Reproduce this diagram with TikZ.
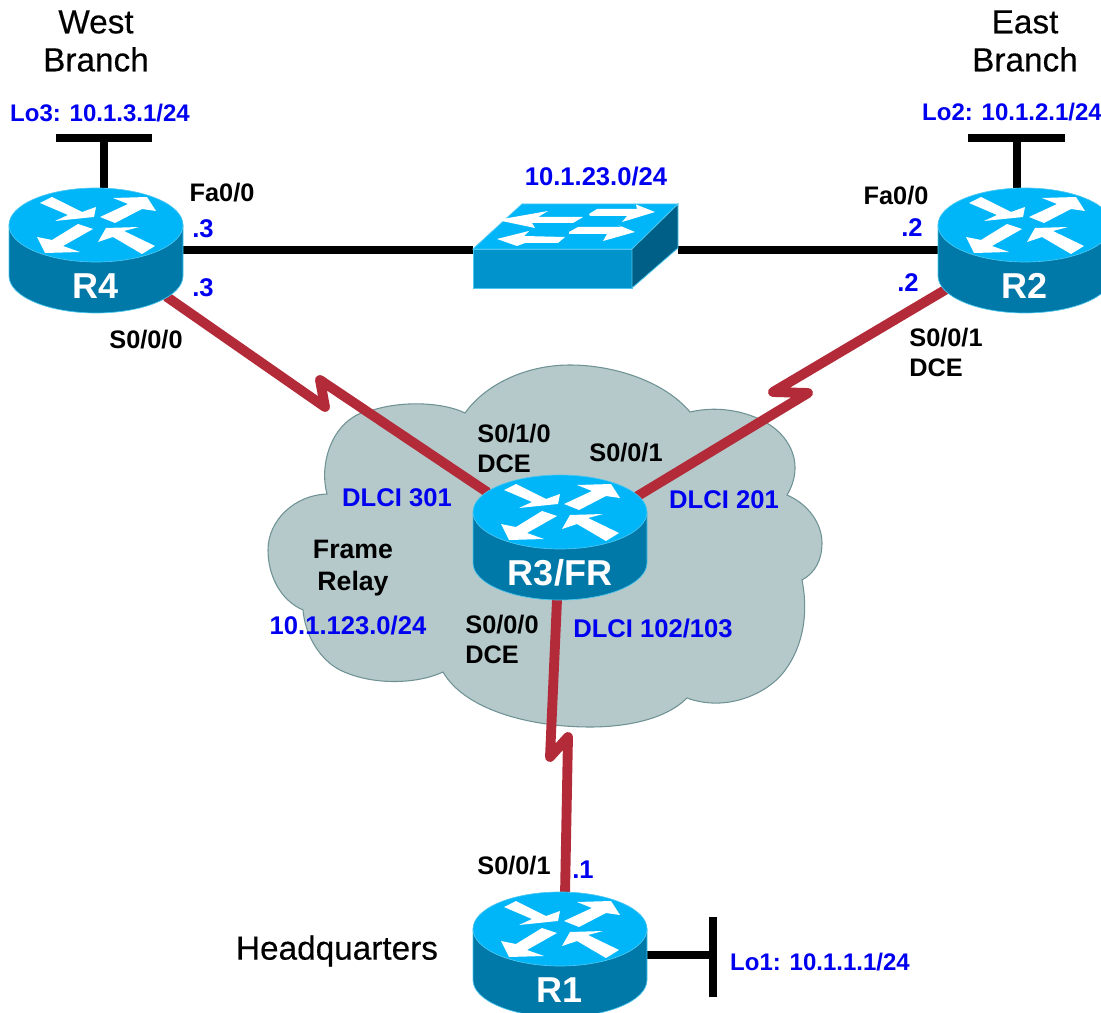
\documentclass[tikz,border=0pt]{standalone}
\usepackage{fontspec}
\setmainfont{Liberation Sans}
\newfontfamily\semibold[FakeBold=0.35]{Liberation Sans}
\usetikzlibrary{backgrounds}
\definecolor{rtop}{HTML}{00B5F8}
\definecolor{rside}{HTML}{0078A8}
\definecolor{swfront}{HTML}{0093CC}
\definecolor{swside}{HTML}{005F86}
\definecolor{swedge}{HTML}{4CC8F0}
\definecolor{linkred}{HTML}{B32A38}
\definecolor{cloudfill}{HTML}{B5C8CA}
\definecolor{cloudedge}{HTML}{6F9395}
\definecolor{lblue}{HTML}{0000F0}
\tikzset{
  x=0.75pt,y=-0.75pt,
  bluelbl/.style={text=lblue,font=\fontsize{19.2}{22}\selectfont\bfseries,inner sep=0pt},
  lolbl/.style={text=lblue,font=\fontsize{18}{22}\selectfont\bfseries,inner sep=0pt},
  blacklbl/.style={text=black,font=\fontsize{19}{22.5}\selectfont\bfseries,inner sep=0pt,align=center},
  framelbl/.style={text=black,font=\fontsize{20}{24}\selectfont\bfseries,inner sep=0pt,align=center},
  biglbl/.style={text=black,font=\fontsize{25}{28.5}\selectfont\semibold,inner sep=0pt,align=center},
  routerlbl/.style={text=white,font=\fontsize{27}{30}\selectfont\bfseries,inner sep=0pt},
  routerbody/.style={minimum width=174*0.75pt,minimum height=125*0.75pt,inner sep=0pt},
  switchbody/.style={minimum width=205*0.75pt,minimum height=84*0.75pt,inner sep=0pt},
  redlink/.style={draw=linkred,line width=7.4pt,line join=round,line cap=round},
  blacklink/.style={draw=black,line width=6pt},
  lobar/.style={draw=black,line width=6pt},
  whitearrow/.style={fill=white,draw=none},
}
\newcommand{\routerat}[4]{% name, cx, cy, label
  \begin{scope}[shift={(#2,#3)}]
    \fill[rside,draw=swedge,line width=.5pt] (-87,0) -- (-87,51) arc[start angle=180,end angle=360,x radius=87pt*0.75,y radius=37pt*0.75] -- (87,0) -- cycle;
    \fill[rtop,draw=swedge,line width=.5pt] (0,0) ellipse[x radius=87pt*0.75,y radius=37pt*0.75];
    \fill[whitearrow] (-56,-22) -- (-44,-28) -- (-14,-13) -- (0,-18) -- (-2,-8) -- (-41,-4) -- (-28,-10) -- cycle;
    \fill[whitearrow] (4,-8) -- (19,-2) -- (46,-16) -- (60,-14) -- (51,-28) -- (17,-27) -- (32,-21) -- cycle;
    \fill[whitearrow] (-3,4) -- (-18,-1) -- (-44,15) -- (-59,12) -- (-51,28) -- (-16,27) -- (-33,21) -- cycle;
    \fill[whitearrow] (59,21) -- (28,6) -- (43,2) -- (10,3) -- (2,17) -- (17,12) -- (46,29) -- cycle;
  \end{scope}
  \node[routerbody] (#1) at (#2,#3+25.5) {};
  \node[routerlbl] (#1lbl) at (#2,#3+61) {#4};
}
\begin{document}
\begin{tikzpicture}
\useasboundingbox (0,0) rectangle (1101,1013);
\clip (0,0) rectangle (1101,1013);

\routerat{rfour}{96}{225}{R4}
\routerat{rtwo}{1025}{225}{R2}
\routerat{rthree}{560}{512}{R3/FR}
\routerat{rone}{560}{929}{R1}

% switch
\node[switchbody] (sw) at (575.5,246) {};
\fill[swfront,draw=swedge,line width=.6pt] (473,249) rectangle (632,288);
\fill[rtop,draw=swedge,line width=.6pt] (473,249) -- (522,204) -- (678,204) -- (632,249) -- cycle;
\fill[swside,draw=swedge,line width=.6pt] (632,249) -- (678,204) -- (678,248) -- (632,288) -- cycle;
\fill[whitearrow] (497,220) -- (548,211) -- (538,217) -- (583,217) -- (573,223) -- (532,223) -- (535,228) -- cycle;
\fill[whitearrow] (589,214) -- (597,209) -- (637,209) -- (636,204.5) -- (655,212) -- (622,222) -- (627,216) -- (590,216) -- cycle;
\fill[whitearrow] (497,239) -- (529,231) -- (524,236) -- (565,237) -- (558,243) -- (525,243) -- (517,246) -- cycle;
\fill[whitearrow] (569,232) -- (578,227) -- (622,227) -- (618,225) -- (635,232) -- (603,241) -- (607,234) -- (569,234) -- cycle;

% connector helpers
\coordinate (barfourmid) at (104,138);
\coordinate (bartwomid) at (1017,138);
\coordinate (baronemid) at (713,955);
\coordinate (barfourl) at (56,138);
\coordinate (barfourr) at (152,138);
\coordinate (bartwol) at (968,138);
\coordinate (bartwor) at (1065,138);
\coordinate (baronet) at (713,917);
\coordinate (baroneb) at (713,997);
\coordinate (zfoura) at (325,407);
\coordinate (zfourb) at (320,380);
\coordinate (ztwoa) at (773,392);
\coordinate (ztwob) at (808,393);
\coordinate (zonea) at (550,757);
\coordinate (zoneb) at (568,737);
\coordinate (portrfour) at (167,297);
\coordinate (portrtwo) at (945,290);
\coordinate (portrthreew) at (487,492);
\coordinate (portrthreee) at (636,497);
\coordinate (portrthrees) at (557,600);
\coordinate (portrone) at (565,895);

\begin{pgfonlayer}{background}
  \path[fill=cloudfill,draw=cloudedge,line width=.8pt]
    (373,410)
    .. controls (405,400) and (445,403) .. (465,413)
    .. controls (485,385) and (525,365) .. (570,365)
    .. controls (615,365) and (665,382) .. (690,412)
    .. controls (720,405) and (750,412) .. (770,425)
    .. controls (790,438) and (805,465) .. (787,495)
    .. controls (810,505) and (822,525) .. (822,543)
    .. controls (822,560) and (815,573) .. (802,580)
    .. controls (808,610) and (805,645) .. (783,673)
    .. controls (765,695) and (725,712) .. (687,698)
    .. controls (665,720) and (625,727) .. (590,727)
    .. controls (530,727) and (465,710) .. (443,672)
    .. controls (415,685) and (370,685) .. (340,670)
    .. controls (320,660) and (305,635) .. (303,610)
    .. controls (280,600) and (268,575) .. (268,550)
    .. controls (268,520) and (295,495) .. (327,494)
    .. controls (318,460) and (335,415) .. (373,410)
    -- cycle;
  \draw[blacklink] (rfour.east) -- (sw.west |- rfour.east);
  \draw[blacklink] (sw.east |- rtwo.west) -- (rtwo.west);
  \draw[redlink] (portrfour) -- (zfoura) -- (zfourb) -- (portrthreew);
  \draw[redlink] (portrtwo) -- (ztwoa) -- (ztwob) -- (portrthreee);
  \draw[redlink] (portrthrees) -- (zonea) -- (zoneb) -- (portrone);
  \draw[lobar] (barfourl) -- (barfourr);
  \draw[lobar] (barfourmid) -- (rfour.north -| barfourmid);
  \draw[lobar] (bartwol) -- (bartwor);
  \draw[lobar] (bartwomid) -- (rtwo.north -| bartwomid);
  \draw[lobar] (baronet) -- (baroneb);
  \draw[lobar] (baronemid) -- (rone.east |- baronemid);
\end{pgfonlayer}

% labels
\node[biglbl] (tw) at (96,41) {West\\Branch};
\node[biglbl] (te) at (1025,41) {East\\Branch};
\node[biglbl] (thq) at (337,951) {Headquarters};
\node[lolbl] (l3) at (100,113) {Lo3: 10.1.3.1/24};
\node[lolbl] (l2) at (1012,112) {Lo2: 10.1.2.1/24};
\node[lolbl] (l1) at (820,962) {Lo1: 10.1.1.1/24};
\node[bluelbl] (net23) at (596,176) {10.1.23.0/24};
\node[blacklbl] (f4) at (222,193) {Fa0/0};
\node[blacklbl] (f2) at (896,196) {Fa0/0};
\node[bluelbl] (d4a) at (203,229) {.3};
\node[bluelbl] (d4b) at (203,288) {.3};
\node[bluelbl] (d2a) at (912,228) {.2};
\node[bluelbl] (d2b) at (908,283) {.2};
\node[blacklbl] (s4) at (146,340) {S0/0/0};
\node[blacklbl,align=left] (s2) at (946,352) {S0/0/1\\DCE};
\node[blacklbl,align=left] (s310) at (514,448) {S0/1/0\\DCE};
\node[blacklbl] (s301) at (626,453) {S0/0/1};
\node[bluelbl] (dl301) at (397,498) {DLCI 301};
\node[bluelbl] (dl201) at (724,500) {DLCI 201};
\node[bluelbl] (dl102) at (653,628) {DLCI 102/103};
\node[framelbl] (fr) at (353,568) {Frame\\Relay};
\node[bluelbl] (net123) at (348,625) {10.1.123.0/24};
\node[blacklbl,align=left] (s300) at (502,639) {S0/0/0\\DCE};
\node[blacklbl] (s1) at (514,866) {S0/0/1};
\node[bluelbl] (d1) at (583,870) {.1};
\end{tikzpicture}
\end{document}
